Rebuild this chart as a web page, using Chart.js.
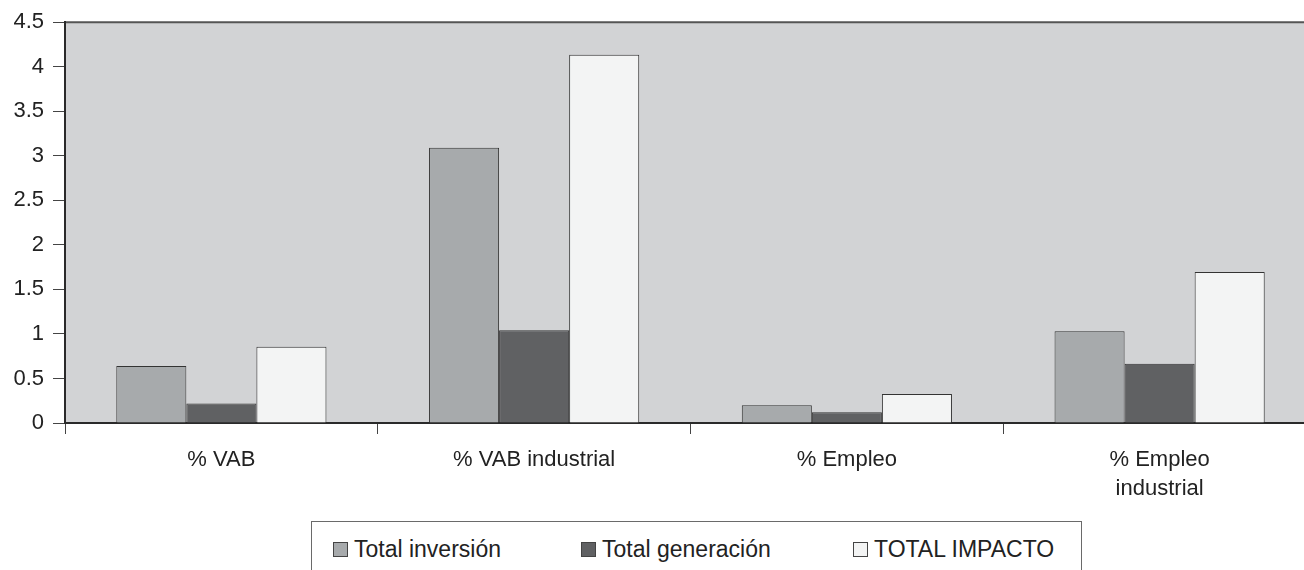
<!DOCTYPE html>
<html>
<head>
<meta charset="utf-8">
<script src="https://cdn.jsdelivr.net/npm/chart.js@4/dist/chart.umd.min.js"></script>
<style>
  html, body { margin: 0; padding: 0; background: #fff; overflow: hidden; }
  #wrap { position: relative; width: 1316px; height: 570px; }
  #legend {
    position: absolute; left: 311px; top: 521px; width: 769px; height: 60px;
    border: 1px solid #6a6a6a; background: #fff;
    font-family: "Liberation Sans", Arial, sans-serif; font-size: 23px; color: #222;
  }
  .item { position: absolute; top: 20px; height: 15px; }
  .box { position: absolute; left: 0; top: 0; width: 13px; height: 13px; border: 1px solid #444; box-sizing: content-box; }
  .lbl { position: absolute; left: 21px; top: -5px; white-space: nowrap; line-height: 24px; }
</style>
</head>
<body>
<div id="wrap">
  <canvas id="chart"></canvas>
  <div id="legend"></div>
</div>
<script>
/* data */
const categories = ["% VAB", "% VAB industrial", "% Empleo", ["% Empleo", "industrial"]];
const seriesNames = ["Total inversión", "Total generación", "TOTAL IMPACTO"];
const inversion = [0.64, 3.09, 0.20, 1.03];
const generacion = [0.22, 1.04, 0.12, 0.665];
const impacto = [0.855, 4.135, 0.325, 1.695];
const yTicks = [0, 0.5, 1, 1.5, 2, 2.5, 3, 3.5, 4, 4.5];

const colours = ["#a7aaac", "#606163", "#f3f4f4"];
const values = [inversion, generacion, impacto];

/* plot background + top border line */
const plotBg = {
    id: "plotBg",
    beforeDraw(chart) {
        const a = chart.chartArea, ctx = chart.ctx;
        ctx.save();
        ctx.fillStyle = "#d2d3d5";
        ctx.fillRect(a.left, a.top, a.right - a.left, a.bottom - a.top);
        ctx.strokeStyle = "#555";
        ctx.lineWidth = 2;
        ctx.beginPath();
        ctx.moveTo(a.left, a.top);
        ctx.lineTo(a.right, a.top);
        ctx.stroke();
        ctx.restore();
    }
};

const font = { family: "'Liberation Sans', Arial, sans-serif", size: 22 };

const chart = new Chart(document.getElementById("chart").getContext("2d"), {
    type: "bar",
    data: {
        labels: categories,
        datasets: seriesNames.map((name, i) => ({
            label: name,
            data: values[i],
            backgroundColor: colours[i],
            borderColor: "#333",
            borderWidth: 1,
            barPercentage: 1,
            categoryPercentage: 0.672
        }))
    },
    options: {
        responsive: true,
        maintainAspectRatio: false,
        animation: false,
        layout: { padding: { top: 21, right: 0, bottom: 0, left: 0 } },
        plugins: { legend: { display: false }, tooltip: { enabled: false } },
        scales: {
            x: {
                afterFit(s) { s.height = 147; },
                grid: { drawOnChartArea: false, drawTicks: true, tickLength: 11, color: "#444", offset: true },
                border: { display: true, color: "#2a2a2a", width: 2 },
                ticks: { color: "#222", font: Object.assign({ lineHeight: 1.3 }, font), padding: 12, maxRotation: 0, autoSkip: false }
            },
            y: {
                min: 0, max: 4.5,
                afterFit(s) { s.width = 65; },
                afterBuildTicks(s) { s.ticks = yTicks.map(v => ({ value: v })); },
                grid: { drawOnChartArea: false, drawTicks: true, tickLength: 12, color: "#444" },
                border: { display: true, color: "#2a2a2a", width: 2 },
                ticks: { color: "#222", font: font, padding: 9, callback: v => String(v) }
            }
        }
    },
    plugins: [plotBg]
});

/* legend box */
const legendEl = document.getElementById("legend");
const itemLeft = [21, 269, 541];
chart.data.datasets.forEach((ds, i) => {
    const it = document.createElement("div");
    it.className = "item";
    it.style.left = itemLeft[i] + "px";
    const b = document.createElement("div");
    b.className = "box";
    b.style.background = ds.backgroundColor;
    const t = document.createElement("span");
    t.className = "lbl";
    t.textContent = ds.label;
    it.appendChild(b);
    it.appendChild(t);
    legendEl.appendChild(it);
});
</script>
</body>
</html>
